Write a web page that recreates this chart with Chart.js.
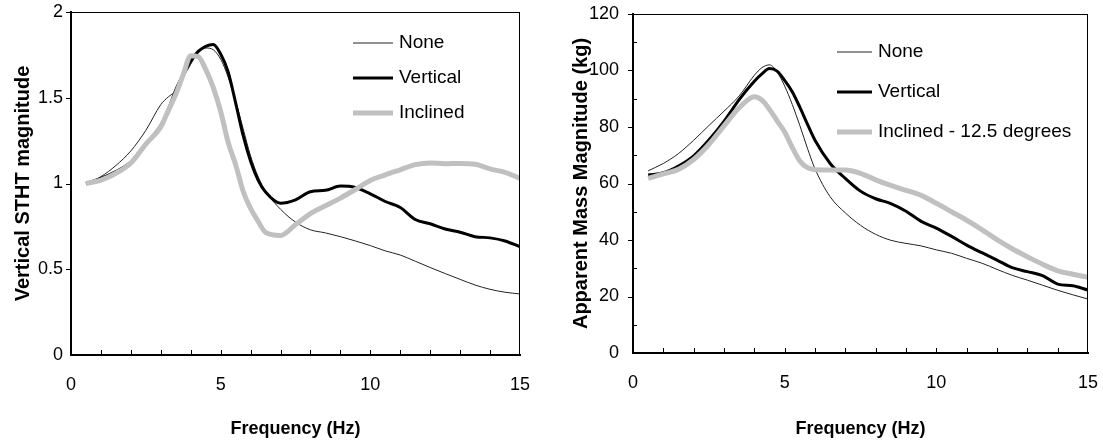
<!DOCTYPE html>
<html>
<head>
<meta charset="utf-8">
<script src="https://cdn.jsdelivr.net/npm/chart.js@4.4.0/dist/chart.umd.min.js"></script>
<style>
  body { margin: 0; background: #fff; }
  #wrap { position: relative; width: 1103px; height: 446px; }
  #left { position: absolute; left: 0; top: 0; }
  #right { position: absolute; left: 551px; top: 0; }
</style>
</head>
<body>
<div id="wrap">
  <canvas id="left" width="551" height="446"></canvas>
  <canvas id="right" width="552" height="446"></canvas>
</div>
<script>
// data
const seriesNames = ['None', 'Vertical', 'Inclined'];
const seriesNamesMass = ['None', 'Vertical', 'Inclined - 12.5 degrees'];

// left plot: vertical STHT magnitude
const freqStht = [0.5, 1, 1.5, 2, 2.5, 3, 3.25, 3.5, 3.75, 4, 4.25, 4.5, 4.75, 5, 5.25, 5.5, 5.75, 6, 6.25, 6.5,
  7, 7.5, 8, 8.5, 9, 9.5, 10, 10.5, 11, 11.5, 12, 12.5, 13, 13.5, 14, 14.5, 15];
const sthtNone = [1.0, 1.04, 1.105, 1.19, 1.31, 1.46, 1.505, 1.54, 1.62, 1.695, 1.765, 1.79, 1.78, 1.725, 1.62, 1.48, 1.32, 1.16, 1.04, 0.955,
  0.85, 0.775, 0.73, 0.712, 0.69, 0.665, 0.638, 0.607, 0.583, 0.547, 0.51, 0.475, 0.441, 0.408, 0.383, 0.366, 0.356];
const sthtVertical = [1.0, 1.03, 1.07, 1.125, 1.23, 1.34, 1.43, 1.545, 1.635, 1.715, 1.77, 1.80, 1.81, 1.755, 1.65, 1.47, 1.28, 1.13, 1.02, 0.95,
  0.885, 0.905, 0.952, 0.96, 0.985, 0.977, 0.94, 0.895, 0.86, 0.79, 0.765, 0.735, 0.716, 0.69, 0.683, 0.665, 0.632];
const sthtInclined = [1.0, 1.02, 1.06, 1.12, 1.23, 1.33, 1.425, 1.52, 1.635, 1.745, 1.74, 1.665, 1.56, 1.42, 1.24, 1.11, 0.955, 0.855, 0.78, 0.715,
  0.697, 0.76, 0.825, 0.87, 0.915, 0.965, 1.018, 1.05, 1.08, 1.11, 1.12, 1.115, 1.117, 1.112, 1.085, 1.065, 1.03];

// right plot: apparent mass magnitude (kg)
const freqMass = [0.5, 1, 1.5, 2, 2.5, 3, 3.5, 4, 4.25, 4.5, 4.75, 5, 5.25, 5.5, 5.75, 6, 6.5, 7, 7.5, 8,
  8.5, 9, 9.5, 10, 10.5, 11, 11.5, 12, 12.5, 13, 13.5, 14, 14.5, 15];
const massNone = [64.5, 67.1, 70.6, 75.3, 80.5, 85.6, 91.0, 98.3, 101.0, 102.0, 99.5, 94.5, 88.0, 80.5, 72.5, 65.2, 55.3, 49.6, 45.2, 42.0,
  39.9, 38.8, 37.9, 36.5, 35.3, 33.5, 31.8, 29.6, 27.5, 25.8, 24.0, 22.2, 20.6, 19.1];
const massVertical = [63.0, 63.8, 66.2, 69.8, 75.4, 82.0, 89.7, 96.2, 98.8, 100.7, 99.8, 96.5, 92.5, 87.0, 81.0, 75.3, 67.1, 61.8, 57.3, 54.6,
  52.9, 50.2, 46.6, 44.2, 41.3, 38.2, 35.5, 32.9, 30.2, 28.8, 27.4, 24.4, 23.8, 22.3];
const massInclined = [61.8, 63.4, 65.0, 68.5, 73.8, 80.4, 86.8, 90.7, 89.5, 86.2, 82.2, 78.2, 72.8, 68.0, 65.6, 64.9, 64.8, 64.8, 63.6, 61.3,
  59.3, 57.6, 55.8, 53.0, 50.0, 47.0, 43.7, 40.1, 36.9, 34.1, 31.4, 29.1, 27.9, 26.8];

const FONT = 'Liberation Sans, Arial, sans-serif';
Chart.defaults.font.family = FONT;
Chart.defaults.color = '#000';

// make {x,y} points for a linear x axis
function pts(xs, ys) {
  return xs.map((x, i) => ({ x: x, y: ys[i] }));
}

// box, tick marks and the legend inside the plot
const framePlugin = {
  id: 'frame',
  afterDraw(chart, args, o) {
    const { ctx, chartArea: a, scales } = chart;
    const x = scales.x, y = scales.y;
    ctx.save();
    ctx.strokeStyle = '#000';
    ctx.lineWidth = 1;
    ctx.beginPath();
    ctx.moveTo(a.left, a.top + 0.5);
    ctx.lineTo(a.right, a.top + 0.5);
    ctx.moveTo(a.right - 0.5, a.top);
    ctx.lineTo(a.right - 0.5, a.bottom);
    // x ticks point up into the plot
    for (let f = 1; f < 15; f++) {
      const px = Math.round(x.getPixelForValue(f)) + 0.5;
      ctx.moveTo(px, a.bottom);
      ctx.lineTo(px, a.bottom - 5);
    }
    // y ticks: major outside, minor inside
    for (let v = y.min + o.yStep; v < y.max + 1e-9; v += o.yStep) {
      const py = Math.round(y.getPixelForValue(v)) + 0.5;
      const major = Math.abs(v / o.yMajor - Math.round(v / o.yMajor)) < 1e-6;
      if (major) {
        ctx.moveTo(a.left - 5, py);
        ctx.lineTo(a.left, py);
      } else {
        ctx.moveTo(a.left, py);
        ctx.lineTo(a.left + 4, py);
      }
    }
    ctx.stroke();

    // legend
    const lg = o.legend;
    ctx.font = lg.fontSize + 'px ' + FONT;
    ctx.textBaseline = 'middle';
    ctx.textAlign = 'left';
    chart.data.datasets.forEach((ds, i) => {
      const yy = lg.y + i * lg.dy;
      ctx.beginPath();
      ctx.strokeStyle = ds.borderColor;
      ctx.lineWidth = ds.borderWidth;
      ctx.moveTo(lg.x, yy);
      ctx.lineTo(lg.x + lg.len, yy);
      ctx.stroke();
      ctx.fillStyle = '#000';
      ctx.fillText(ds.label, lg.x + lg.len + lg.gap, yy);
    });
    ctx.restore();
  }
};

function makeChart(id, cfg) {
  const ctx = document.getElementById(id).getContext('2d');
  return new Chart(ctx, {
    type: 'line',
    data: {
      datasets: [
        { label: cfg.names[0], data: pts(cfg.freq, cfg.none), borderColor: '#222', borderWidth: 1, order: 2 },
        { label: cfg.names[1], data: pts(cfg.freq, cfg.vertical), borderColor: '#000', borderWidth: 3, order: 1 },
        { label: cfg.names[2], data: pts(cfg.freq, cfg.inclined), borderColor: '#c0c0c0', borderWidth: 5, order: 0 }
      ]
    },
    options: {
      responsive: false,
      animation: false,
      devicePixelRatio: 1,
      elements: {
        point: { radius: 0 },
        line: { cubicInterpolationMode: 'monotone', borderCapStyle: 'butt' }
      },
      layout: { padding: cfg.padding },
      plugins: {
        legend: { display: false },
        tooltip: { enabled: false },
        frame: { yStep: cfg.yStep, yMajor: cfg.yMajor, legend: cfg.legend }
      },
      scales: {
        x: {
          type: 'linear',
          min: 0,
          max: 15,
          grid: { display: false, drawTicks: false },
          border: { display: true, color: '#000', width: 2 },
          ticks: { stepSize: 5, padding: 19, maxRotation: 0, font: { size: 18 } },
          title: {
            display: true,
            text: 'Frequency (Hz)',
            font: { size: 18, weight: 'bold' },
            padding: { top: 0, bottom: 6 }
          },
          afterFit: s => {
            s.height = cfg.xHeight;
            s.paddingLeft = 0;
            s.paddingRight = 0;
          }
        },
        y: {
          type: 'linear',
          min: 0,
          max: cfg.yMax,
          grid: { display: false, drawTicks: false },
          border: { display: true, color: '#000', width: 2 },
          ticks: {
            stepSize: cfg.yMajor,
            padding: cfg.yPad,
            font: { size: 18 },
            callback: v => String(Number(v))
          },
          title: {
            display: true,
            text: cfg.yTitle,
            font: { size: 20, weight: 'bold' },
            padding: { top: cfg.yTitlePad, bottom: 0 }
          },
          afterFit: s => {
            s.width = cfg.yWidth;
            s.paddingTop = 0;
            s.paddingBottom = 0;
          }
        }
      }
    },
    plugins: [framePlugin]
  });
}

makeChart('left', {
  names: seriesNames,
  freq: freqStht, none: sthtNone, vertical: sthtVertical, inclined: sthtInclined,
  yMax: 2, yStep: 0.5, yMajor: 0.5, yPad: 8,
  yTitle: 'Vertical STHT magnitude', yTitlePad: 11,
  yWidth: 71, xHeight: 91,
  padding: { top: 12, right: 31, left: 0, bottom: 0 },
  legend: { x: 353, y: 43, dy: 35, len: 40, gap: 6, fontSize: 19 }
});

makeChart('right', {
  names: seriesNamesMass,
  freq: freqMass, none: massNone, vertical: massVertical, inclined: massInclined,
  yMax: 120, yStep: 10, yMajor: 20, yPad: 14,
  yTitle: 'Apparent Mass Magnitude (kg)', yTitlePad: 18,
  yWidth: 82, xHeight: 93,
  padding: { top: 14, right: 15, left: 0, bottom: 0 },
  legend: { x: 286, y: 52, dy: 40, len: 35, gap: 6, fontSize: 19 }
});
</script>
</body>
</html>
